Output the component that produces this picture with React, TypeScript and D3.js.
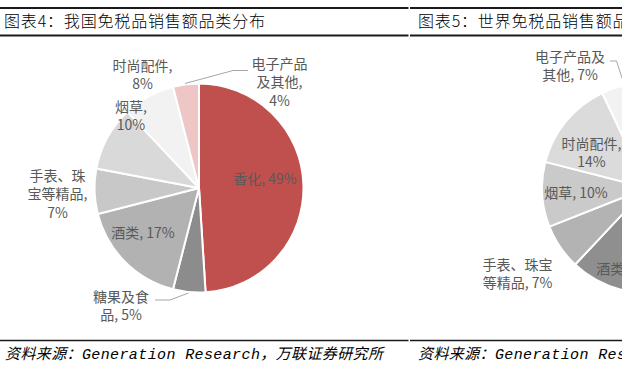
import React from 'react';
import * as d3 from 'd3';

// ---- data ----
const categories = ['香化', '糖果及食品', '酒类', '手表、珠宝等精品', '烟草', '时尚配件', '电子产品及其他'];
const valuesChina = [49, 5, 17, 7, 10, 8, 4];
const valuesWorld = [40, 5, 17, 7, 10, 14, 7];
const titleChina = '图表4：我国免税品销售额品类分布';
const titleWorld = '图表5：世界免税品销售额品类分布';
const sourceText = '资料来源：Generation Research，万联证券研究所';

// ---- styles / layout ----
const colorsChina = ['#C0504D', '#8C8C8C', '#B2B2B2', '#C8C8C8', '#D9D9D9', '#F2F2F2', '#EFC6C6'];
const colorsWorld = ['#C0504D', '#6E6E6E', '#8F8F8F', '#B3B3B3', '#CACACA', '#DBDBDB', '#F2F2F2'];

// line breaks (characters per line) and label centres [x, first-line y]
const breaksChina = [[], [4], [], [4, 5], [3], [5], [4, 4]];
const posChina: [number, number][] = [[265, 178.5], [121, 297], [143, 233], [57.5, 176], [131, 107], [142.5, 66], [279.5, 64]];
const breaksWorld = [[], [4], [], [5], [], [5], [5]];
const posWorld: [number, number][] = [[715, 190], [760, 312], [628, 268.5], [517.5, 265], [576, 193], [591.5, 143.5], [570, 57]];

const leadersChina: [number, number][][] = [
  [], [[155, 300], [170, 300], [188.5, 293]], [], [], [], [], [[185, 83.5], [233, 70.5], [248, 70.5]],
];
const leadersWorld: [number, number][][] = [
  [], [], [], [], [], [], [[610, 61], [616.5, 61], [624, 84]],
];

const LINE_H = 18.3;
const LABEL_FONT = '"Noto Sans CJK SC", "Noto Sans", sans-serif';

function splitLabel(text: string, breaks: number[]): string[] {
  const out: string[] = [];
  let i = 0;
  for (const b of breaks) {
    out.push(text.slice(i, i + b).trim());
    i += b;
  }
  out.push(text.slice(i).trim());
  return out;
}

type PieProps = {
  cx: number; cy: number; r: number;
  values: number[]; colors: string[];
  breaks: number[][]; pos: [number, number][];
  leaders: [number, number][][];
};

function Pie({ cx, cy, r, values, colors, breaks, pos, leaders }: PieProps) {
  const pie = d3.pie<number>().sort(null).value((d) => d);
  const arcs = pie(values);
  const arc = d3.arc<d3.PieArcDatum<number>>().innerRadius(0).outerRadius(r);
  const line = d3.line();
  return (
    <g>
      <g transform={`translate(${cx},${cy})`}>
        {arcs.map((a, i) => (
          <path key={i} d={arc(a) || ''} fill={colors[i]} stroke="#ffffff" strokeWidth={2} strokeLinejoin="round" />
        ))}
      </g>
      {leaders.map((pts, i) =>
        pts.length ? <path key={'l' + i} d={line(pts) || ''} fill="none" stroke="#A6A6A6" strokeWidth={1} /> : null
      )}
      {categories.map((c, i) => {
        const lines = splitLabel(`${c}, ${values[i]}%`, breaks[i]);
        const [x, y] = pos[i];
        return (
          <text key={'t' + i} x={x} y={y + 5} textAnchor="middle" fontSize={14} fill="#595959" fontFamily={LABEL_FONT}>
            {lines.map((s, j) => (
              <tspan key={j} x={x} y={y + 5 + j * LINE_H}>{s}</tspan>
            ))}
          </text>
        );
      })}
    </g>
  );
}

export default function App() {
  const W = 622, H = 377;
  return (
    <svg width={W} height={H} viewBox={`0 0 ${W} ${H}`} style={{ position: 'absolute', left: 0, top: 0, background: '#fff' }}>
      <rect width={W} height={H} fill="#ffffff" />
      {/* header rules */}
      <line x1={0} x2={408.5} y1={8} y2={8} stroke="#1a1a1a" strokeWidth={2} />
      <line x1={410} x2={W} y1={8} y2={8} stroke="#1a1a1a" strokeWidth={2} />
      <line x1={0} x2={408.5} y1={35.5} y2={35.5} stroke="#1a1a1a" strokeWidth={2} />
      <line x1={410} x2={W} y1={35.5} y2={35.5} stroke="#1a1a1a" strokeWidth={2} />
      <text x={4} y={27} fontSize={16} fontWeight={300} fill="#000" fontFamily={LABEL_FONT} textLength={261} lengthAdjust="spacing">{titleChina}</text>
      <text x={418} y={27} fontSize={16} fontWeight={300} fill="#000" fontFamily={LABEL_FONT} textLength={261} lengthAdjust="spacing">{titleWorld}</text>

      <Pie cx={199} cy={188} r={104.5} values={valuesChina} colors={colorsChina} breaks={breaksChina} pos={posChina} leaders={leadersChina} />
      <Pie cx={647} cy={188} r={105} values={valuesWorld} colors={colorsWorld} breaks={breaksWorld} pos={posWorld} leaders={leadersWorld} />

      {/* footer rules */}
      <line x1={0} x2={408.5} y1={340.5} y2={340.5} stroke="#1a1a1a" strokeWidth={1.6} />
      <line x1={410} x2={W} y1={340.5} y2={340.5} stroke="#1a1a1a" strokeWidth={1.6} />
      <text x={5} y={359} fontSize={15} fontStyle="italic" fill="#000" fontFamily='"Liberation Mono", "Noto Sans CJK SC", monospace' textLength={378} lengthAdjust="spacing">{sourceText}</text>
      <text x={418} y={359} fontSize={15} fontStyle="italic" fill="#000" fontFamily='"Liberation Mono", "Noto Sans CJK SC", monospace' textLength={378} lengthAdjust="spacing">{sourceText}</text>
    </svg>
  );
}
